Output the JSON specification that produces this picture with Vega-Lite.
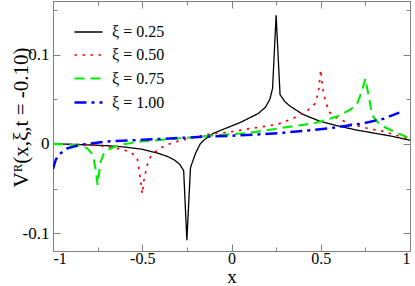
{
  "$schema": "https://vega.github.io/schema/vega-lite/v6.json",
  "width": 357,
  "height": 250,
  "autosize": "none",
  "padding": {"left": 53, "top": 1, "right": 5, "bottom": 35},
  "background": "white",
  "config": {
    "font": "Liberation Serif",
    "view": {"stroke": "#808080", "strokeWidth": 1},
    "axis": {
      "domainColor": "#808080", "tickColor": "#808080", "grid": false,
      "labelFont": "Liberation Serif", "titleFont": "Liberation Serif",
      "labelColor": "black", "titleColor": "black", "labelFontSize": 17,
      "titleFontWeight": "normal"
    },
    "legend": {"labelFont": "Liberation Serif"}
  },
  "data": {"values": [
    {"x": -1, "y": 0, "s": "ξ = 0.25"},
    {"x": -0.9, "y": -0.0005, "s": "ξ = 0.25"},
    {"x": -0.8, "y": -0.0012, "s": "ξ = 0.25"},
    {"x": -0.7, "y": -0.002, "s": "ξ = 0.25"},
    {"x": -0.6, "y": -0.0035, "s": "ξ = 0.25"},
    {"x": -0.5, "y": -0.006, "s": "ξ = 0.25"},
    {"x": -0.42, "y": -0.01, "s": "ξ = 0.25"},
    {"x": -0.36, "y": -0.014, "s": "ξ = 0.25"},
    {"x": -0.32, "y": -0.018, "s": "ξ = 0.25"},
    {"x": -0.29, "y": -0.023, "s": "ξ = 0.25"},
    {"x": -0.268, "y": -0.03, "s": "ξ = 0.25"},
    {"x": -0.25, "y": -0.108, "s": "ξ = 0.25"},
    {"x": -0.23, "y": -0.027, "s": "ξ = 0.25"},
    {"x": -0.22, "y": -0.021, "s": "ξ = 0.25"},
    {"x": -0.2, "y": -0.01, "s": "ξ = 0.25"},
    {"x": -0.175, "y": 0, "s": "ξ = 0.25"},
    {"x": -0.15, "y": 0.005, "s": "ξ = 0.25"},
    {"x": -0.1, "y": 0.012, "s": "ξ = 0.25"},
    {"x": -0.05, "y": 0.016, "s": "ξ = 0.25"},
    {"x": 0, "y": 0.02, "s": "ξ = 0.25"},
    {"x": 0.05, "y": 0.024, "s": "ξ = 0.25"},
    {"x": 0.1, "y": 0.029, "s": "ξ = 0.25"},
    {"x": 0.15, "y": 0.034, "s": "ξ = 0.25"},
    {"x": 0.19, "y": 0.041, "s": "ξ = 0.25"},
    {"x": 0.215, "y": 0.05, "s": "ξ = 0.25"},
    {"x": 0.23, "y": 0.062, "s": "ξ = 0.25"},
    {"x": 0.25, "y": 0.144, "s": "ξ = 0.25"},
    {"x": 0.272, "y": 0.055, "s": "ξ = 0.25"},
    {"x": 0.3, "y": 0.047, "s": "ξ = 0.25"},
    {"x": 0.33, "y": 0.042, "s": "ξ = 0.25"},
    {"x": 0.4, "y": 0.033, "s": "ξ = 0.25"},
    {"x": 0.5, "y": 0.025, "s": "ξ = 0.25"},
    {"x": 0.6, "y": 0.02, "s": "ξ = 0.25"},
    {"x": 0.7, "y": 0.0155, "s": "ξ = 0.25"},
    {"x": 0.8, "y": 0.012, "s": "ξ = 0.25"},
    {"x": 0.9, "y": 0.0085, "s": "ξ = 0.25"},
    {"x": 1, "y": 0.004, "s": "ξ = 0.25"},

    {"x": -1, "y": 0, "s": "ξ = 0.50"},
    {"x": -0.9, "y": -0.0005, "s": "ξ = 0.50"},
    {"x": -0.8, "y": -0.001, "s": "ξ = 0.50"},
    {"x": -0.7, "y": -0.003, "s": "ξ = 0.50"},
    {"x": -0.62, "y": -0.006, "s": "ξ = 0.50"},
    {"x": -0.566, "y": -0.009, "s": "ξ = 0.50"},
    {"x": -0.528, "y": -0.016, "s": "ξ = 0.50"},
    {"x": -0.51, "y": -0.04, "s": "ξ = 0.50"},
    {"x": -0.5, "y": -0.056, "s": "ξ = 0.50"},
    {"x": -0.49, "y": -0.04, "s": "ξ = 0.50"},
    {"x": -0.476, "y": -0.027, "s": "ξ = 0.50"},
    {"x": -0.465, "y": -0.018, "s": "ξ = 0.50"},
    {"x": -0.435, "y": -0.01, "s": "ξ = 0.50"},
    {"x": -0.4, "y": -0.005, "s": "ξ = 0.50"},
    {"x": -0.36, "y": -0.001, "s": "ξ = 0.50"},
    {"x": -0.3, "y": 0.003, "s": "ξ = 0.50"},
    {"x": -0.21, "y": 0.0075, "s": "ξ = 0.50"},
    {"x": -0.12, "y": 0.011, "s": "ξ = 0.50"},
    {"x": -0.02, "y": 0.013, "s": "ξ = 0.50"},
    {"x": 0.1, "y": 0.017, "s": "ξ = 0.50"},
    {"x": 0.2, "y": 0.02, "s": "ξ = 0.50"},
    {"x": 0.26, "y": 0.022, "s": "ξ = 0.50"},
    {"x": 0.35, "y": 0.029, "s": "ξ = 0.50"},
    {"x": 0.43, "y": 0.038, "s": "ξ = 0.50"},
    {"x": 0.467, "y": 0.045, "s": "ξ = 0.50"},
    {"x": 0.48, "y": 0.053, "s": "ξ = 0.50"},
    {"x": 0.49, "y": 0.063, "s": "ξ = 0.50"},
    {"x": 0.5, "y": 0.083, "s": "ξ = 0.50"},
    {"x": 0.51, "y": 0.063, "s": "ξ = 0.50"},
    {"x": 0.52, "y": 0.053, "s": "ξ = 0.50"},
    {"x": 0.545, "y": 0.036, "s": "ξ = 0.50"},
    {"x": 0.58, "y": 0.03, "s": "ξ = 0.50"},
    {"x": 0.67, "y": 0.022, "s": "ξ = 0.50"},
    {"x": 0.76, "y": 0.0175, "s": "ξ = 0.50"},
    {"x": 0.85, "y": 0.014, "s": "ξ = 0.50"},
    {"x": 0.95, "y": 0.008, "s": "ξ = 0.50"},
    {"x": 1, "y": 0.005, "s": "ξ = 0.50"},

    {"x": -1, "y": 0, "s": "ξ = 0.75"},
    {"x": -0.9, "y": -0.001, "s": "ξ = 0.75"},
    {"x": -0.85, "y": -0.002, "s": "ξ = 0.75"},
    {"x": -0.808, "y": -0.005, "s": "ξ = 0.75"},
    {"x": -0.785, "y": -0.01, "s": "ξ = 0.75"},
    {"x": -0.771, "y": -0.018, "s": "ξ = 0.75"},
    {"x": -0.76, "y": -0.03, "s": "ξ = 0.75"},
    {"x": -0.75, "y": -0.046, "s": "ξ = 0.75"},
    {"x": -0.74, "y": -0.03, "s": "ξ = 0.75"},
    {"x": -0.733, "y": -0.02, "s": "ξ = 0.75"},
    {"x": -0.715, "y": -0.011, "s": "ξ = 0.75"},
    {"x": -0.696, "y": -0.007, "s": "ξ = 0.75"},
    {"x": -0.65, "y": -0.003, "s": "ξ = 0.75"},
    {"x": -0.62, "y": -0.001, "s": "ξ = 0.75"},
    {"x": -0.51, "y": 0.0026, "s": "ξ = 0.75"},
    {"x": -0.36, "y": 0.005, "s": "ξ = 0.75"},
    {"x": -0.21, "y": 0.0075, "s": "ξ = 0.75"},
    {"x": -0.06, "y": 0.01, "s": "ξ = 0.75"},
    {"x": 0.09, "y": 0.012, "s": "ξ = 0.75"},
    {"x": 0.27, "y": 0.0175, "s": "ξ = 0.75"},
    {"x": 0.46, "y": 0.023, "s": "ξ = 0.75"},
    {"x": 0.55, "y": 0.028, "s": "ξ = 0.75"},
    {"x": 0.61, "y": 0.032, "s": "ξ = 0.75"},
    {"x": 0.67, "y": 0.039, "s": "ξ = 0.75"},
    {"x": 0.704, "y": 0.045, "s": "ξ = 0.75"},
    {"x": 0.732, "y": 0.06, "s": "ξ = 0.75"},
    {"x": 0.75, "y": 0.073, "s": "ξ = 0.75"},
    {"x": 0.769, "y": 0.053, "s": "ξ = 0.75"},
    {"x": 0.788, "y": 0.032, "s": "ξ = 0.75"},
    {"x": 0.834, "y": 0.021, "s": "ξ = 0.75"},
    {"x": 0.909, "y": 0.014, "s": "ξ = 0.75"},
    {"x": 0.965, "y": 0.009, "s": "ξ = 0.75"},
    {"x": 1, "y": 0.006, "s": "ξ = 0.75"},

    {"x": -1, "y": -0.028, "s": "ξ = 1.00"},
    {"x": -0.985, "y": -0.018, "s": "ξ = 1.00"},
    {"x": -0.967, "y": -0.012, "s": "ξ = 1.00"},
    {"x": -0.92, "y": -0.005, "s": "ξ = 1.00"},
    {"x": -0.845, "y": -0.001, "s": "ξ = 1.00"},
    {"x": -0.7, "y": 0.0026, "s": "ξ = 1.00"},
    {"x": -0.5, "y": 0.0045, "s": "ξ = 1.00"},
    {"x": -0.3, "y": 0.0065, "s": "ξ = 1.00"},
    {"x": -0.1, "y": 0.0085, "s": "ξ = 1.00"},
    {"x": 0, "y": 0.009, "s": "ξ = 1.00"},
    {"x": 0.27, "y": 0.012, "s": "ξ = 1.00"},
    {"x": 0.55, "y": 0.0175, "s": "ξ = 1.00"},
    {"x": 0.74, "y": 0.023, "s": "ξ = 1.00"},
    {"x": 0.85, "y": 0.028, "s": "ξ = 1.00"},
    {"x": 0.94, "y": 0.035, "s": "ξ = 1.00"}
  ]},
  "resolve": {"axis": {"x": "independent", "y": "independent"}},
  "layer": [
    {
      "mark": {"type": "line", "clip": true},
      "encoding": {
        "x": {"field": "x", "type": "quantitative",
          "scale": {"domain": [-1, 1], "nice": false, "zero": false},
          "axis": {"title": "x", "titleFontSize": 19, "titleY": 35, "titleBaseline": "bottom",
            "values": [-1, -0.75, -0.5, -0.25, 0, 0.25, 0.5, 0.75, 1],
            "tickSize": {"condition": {"test": "abs(datum.value*2 - round(datum.value*2)) < 1e-6", "value": -7}, "value": -4},
            "labelPadding": 6, "labelFontSize": 16,
            "labelExpr": "abs(datum.value*2 - round(datum.value*2)) < 1e-6 ? (datum.value < 0 ? '-' : '') + format(abs(datum.value), '~g') : ''"}},
        "y": {"field": "y", "type": "quantitative",
          "scale": {"domain": [-0.12, 0.16], "nice": false, "zero": false},
          "axis": {"title": "Vᴿ(x,ξ,t = -0.10)", "titleFontSize": 21,
            "titleX": -32, "titleY": 116, "titleAlign": "center", "titleBaseline": "middle", "titleAngle": -90,
            "values": [-0.1, -0.05, 0, 0.05, 0.1, 0.15],
            "tickSize": {"condition": {"test": "abs(datum.value*10 - round(datum.value*10)) < 1e-6", "value": -7}, "value": -4},
            "labelPadding": 11,
            "labelExpr": "abs(datum.value) < 1e-9 ? '0' : (abs(datum.value*10 - round(datum.value*10)) < 1e-6 ? (datum.value < 0 ? '-' : '') + format(abs(datum.value), '.1f') : '')"}},
        "color": {"field": "s", "type": "nominal",
          "scale": {"domain": ["ξ = 0.25", "ξ = 0.50", "ξ = 0.75", "ξ = 1.00"], "range": ["#000000", "#ff0000", "#00ee00", "#0000ff"]},
          "legend": {"title": null, "orient": "none", "legendX": 20, "legendY": 16,
            "symbolType": "stroke", "symbolSize": 784, "symbolStrokeWidth": 2,
            "labelFont": "Liberation Serif", "labelFontSize": 16, "labelColor": "black",
            "labelOffset": 8, "rowPadding": -8}},
        "strokeDash": {"field": "s", "type": "nominal",
          "scale": {"domain": ["ξ = 0.25", "ξ = 0.50", "ξ = 0.75", "ξ = 1.00"], "range": [[1, 0], [2.5, 5.5], [10, 6], [12, 5, 3, 5]]},
          "legend": {"title": null, "orient": "none", "legendX": 20, "legendY": 16,
            "symbolType": "stroke", "symbolSize": 784, "symbolStrokeWidth": 2,
            "labelFont": "Liberation Serif", "labelFontSize": 16, "labelColor": "black",
            "labelOffset": 8, "rowPadding": -8}},
        "strokeWidth": {"field": "s", "type": "nominal", "legend": null,
          "scale": {"domain": ["ξ = 0.25", "ξ = 0.50", "ξ = 0.75", "ξ = 1.00"], "range": [1.3, 2.5, 2.5, 2.5]}}
      }
    },
    {
      "mark": {"type": "line", "opacity": 0},
      "encoding": {
        "x": {"field": "x", "type": "quantitative",
          "scale": {"domain": [-1, 1], "nice": false, "zero": false},
          "axis": {"orient": "top", "title": null, "labels": false,
            "values": [-1, -0.75, -0.5, -0.25, 0, 0.25, 0.5, 0.75, 1],
            "tickSize": {"condition": {"test": "abs(datum.value*2 - round(datum.value*2)) < 1e-6", "value": -7}, "value": -4}}},
        "y": {"field": "y", "type": "quantitative",
          "scale": {"domain": [-0.12, 0.16], "nice": false, "zero": false},
          "axis": {"orient": "right", "title": null, "labels": false,
            "values": [-0.1, -0.05, 0, 0.05, 0.1, 0.15],
            "tickSize": {"condition": {"test": "abs(datum.value*10 - round(datum.value*10)) < 1e-6", "value": -7}, "value": -4}}},
        "detail": {"field": "s", "type": "nominal"}
      }
    }
  ]
}
